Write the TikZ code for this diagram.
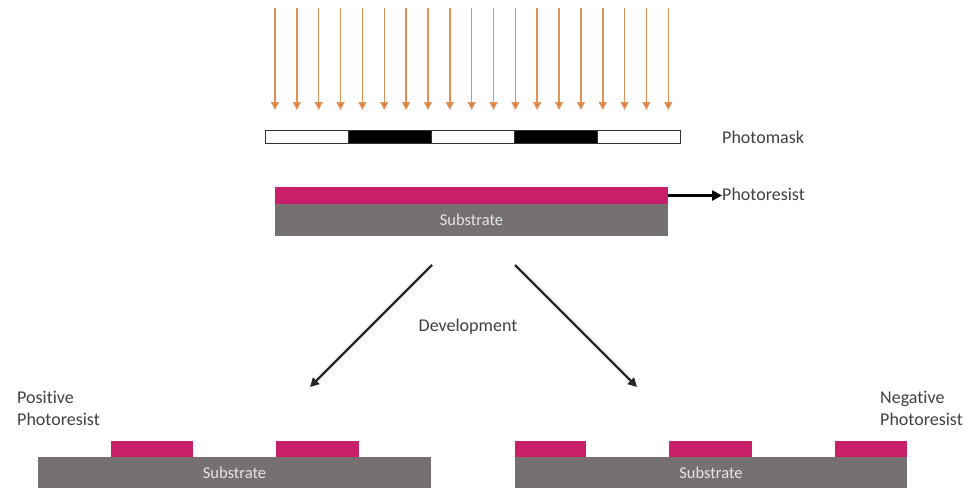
\documentclass[tikz,border=0pt]{standalone}
\usepackage{fontspec}
\setmainfont[Ligatures={NoCommon}]{Carlito}
\usetikzlibrary{arrows.meta}
\definecolor{resist}{HTML}{C8216A}
\definecolor{subs}{HTML}{767170}
\definecolor{light}{HTML}{D9772F}
\definecolor{txt}{HTML}{404040}
\definecolor{subtxt}{HTML}{E6E6E6}
\tikzset{
  blk/.style={inner sep=0pt, outer sep=0pt, anchor=north west},
  substrate/.style={blk, fill=subs, text=subtxt, font=\fontsize{16.5}{19}\selectfont},
  resistpad/.style={blk, fill=resist},
  maskseg/.style={blk, draw=black!80, line width=1pt},
  lbl/.style={text=txt, font=\fontsize{18}{21}\selectfont, inner sep=0pt},
  uvray/.style={draw=light!80, line width=1.5pt, -{Triangle[width=8pt,length=8pt,fill=light]}},
  bigarrow/.style={draw=black!85, line width=2.4pt, -{Triangle[width=9pt,length=9pt]}}
}
\begin{document}
\begin{tikzpicture}[x=1pt,y=-1pt]
\useasboundingbox (0,0) rectangle (976,495);
% UV rays
\foreach \i in {0,...,18}{
  \coordinate (r\i a) at ({275+\i*21.85},8);
  \coordinate (r\i b) at ({275+\i*21.85},110);
  \draw[uvray] (r\i a) -- (r\i b);
}
% photomask
\node[maskseg, minimum width=83pt, minimum height=13pt] (m1) at (265,130) {};
\node[maskseg, fill=black, minimum width=83pt, minimum height=13pt] (m2) at (348,130) {};
\node[maskseg, minimum width=83pt, minimum height=13pt] (m3) at (431,130) {};
\node[maskseg, fill=black, minimum width=83pt, minimum height=13pt] (m4) at (514,130) {};
\node[maskseg, minimum width=83pt, minimum height=13pt] (m5) at (597,130) {};
\node[lbl, anchor=west] (maskl) at (722,137) {Photomask};
% top wafer
\node[resistpad, minimum width=393pt, minimum height=17pt] (pr) at (275,187) {};
\node[substrate, minimum width=393pt, minimum height=32pt] (sub) at (275,204) {Substrate};
\node[lbl, anchor=west] (prl) at (722,194) {Photoresist};
\draw[line width=2.8pt, black, -{Triangle[width=10pt,length=10pt]}] (pr.east) -- (pr.east -| prl.west);
% development
\coordinate (d1s) at (432,265);
\coordinate (d1e) at (310,387);
\coordinate (d2s) at (515,265);
\coordinate (d2e) at (637,387);
\draw[bigarrow] (d1s) -- (d1e);
\draw[bigarrow] (d2s) -- (d2e);
\node[lbl] (dev) at (468,327) {Development};
% positive
\node[substrate, minimum width=393pt, minimum height=31pt] (subp) at (38,457) {Substrate};
\node[resistpad, minimum width=82pt, minimum height=16pt] (pp1) at (111,441) {};
\node[resistpad, minimum width=83pt, minimum height=16pt] (pp2) at (276,441) {};
\node[lbl, anchor=north west, align=left] (posl) at (17,391) {Positive\\[1pt]Photoresist};
% negative
\node[substrate, minimum width=392pt, minimum height=31pt] (subn) at (515,457) {Substrate};
\node[resistpad, minimum width=71pt, minimum height=16pt] (np1) at (515,441) {};
\node[resistpad, minimum width=83pt, minimum height=16pt] (np2) at (669,441) {};
\node[resistpad, minimum width=72pt, minimum height=16pt] (np3) at (835,441) {};
\node[lbl, anchor=north west, align=left] (negl) at (880,391) {Negative\\[1pt]Photoresist};
\end{tikzpicture}
\end{document}
